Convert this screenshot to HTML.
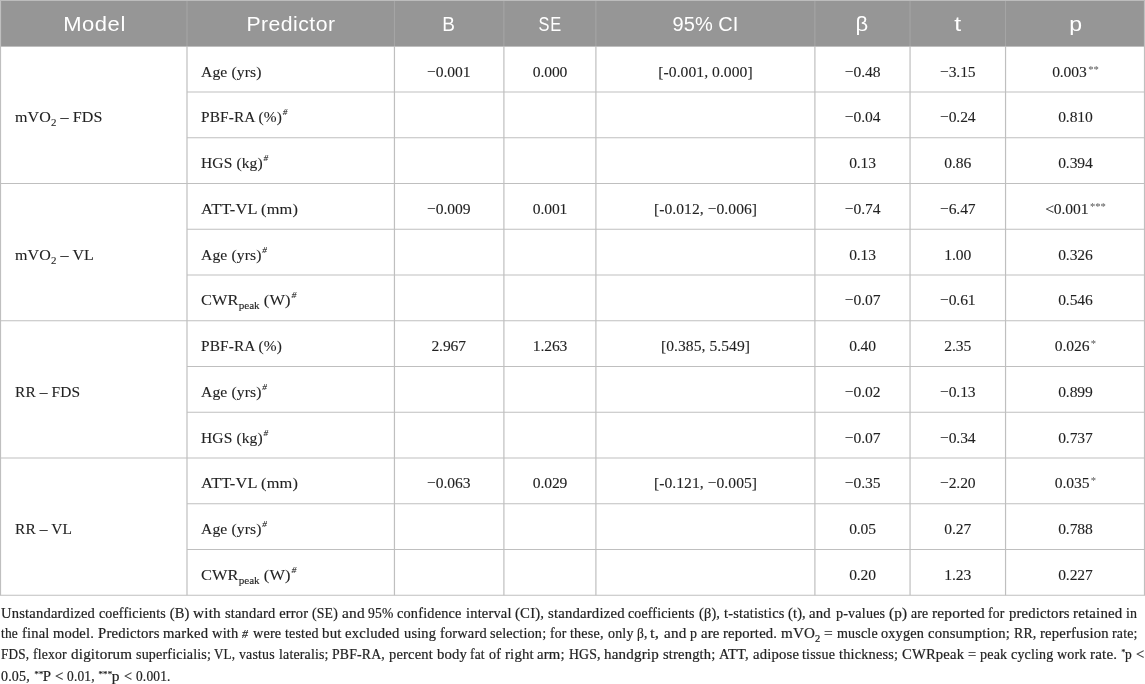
<!DOCTYPE html>
<html><head><meta charset="utf-8"><title>Table</title>
<style>
html,body{margin:0;padding:0;background:#fff;}
body{width:1145px;height:684px;position:relative;overflow:hidden;font-family:"Liberation Serif",serif;color:#222;-webkit-text-stroke:0.1px #222;}
svg.g{position:absolute;left:0;top:0;}
.h{position:absolute;height:46px;line-height:46px;text-align:center;color:#fff;-webkit-text-stroke:0;font-family:"Liberation Sans",sans-serif;font-size:20px;letter-spacing:0.8px;white-space:nowrap;will-change:transform;}
.c{position:absolute;white-space:nowrap;line-height:20px;height:20px;will-change:transform;}
.n{font-size:15.6px;letter-spacing:-0.1px;text-align:center;}
.l{font-size:15.2px;}
sup,sub{line-height:0;letter-spacing:0;}
sup{font-size:9px;vertical-align:6.6px;margin-left:0.8px;font-style:italic;}
sup.s{-webkit-text-stroke:0;font-size:10.6px;vertical-align:4.5px;color:#555;margin-left:1.5px;font-style:normal;letter-spacing:0;}
sub{font-size:10.3px;vertical-align:-3.8px;}
.ft{-webkit-text-stroke:0.2px #222;position:absolute;left:0;width:1145px;white-space:nowrap;font-size:14.5px;letter-spacing:0.18px;line-height:20px;height:20px;color:#222;will-change:transform;}
.ft span{position:absolute;top:0;transform-origin:0 50%;}
.ft sup{font-size:8.6px;vertical-align:4.3px;margin:0;color:#333;}
.ft i{font-style:italic;font-size:11.6px;vertical-align:0.5px;}
.ft sub{font-size:10px;vertical-align:-3.5px;}
</style></head><body>

<svg class="g" width="1145" height="684" viewBox="0 0 1145 684">
<rect x="0" y="0" width="1145" height="46.60" fill="#969696"/>
<line x1="0.50" y1="0" x2="0.50" y2="595.25" stroke="#bfbfbf" stroke-width="1.2"/>
<line x1="187.00" y1="0" x2="187.00" y2="46.25" stroke="#a6a6a6" stroke-width="1"/>
<line x1="187.00" y1="46.25" x2="187.00" y2="595.25" stroke="#bfbfbf" stroke-width="1.2"/>
<line x1="394.45" y1="0" x2="394.45" y2="46.25" stroke="#a6a6a6" stroke-width="1"/>
<line x1="394.45" y1="46.25" x2="394.45" y2="595.25" stroke="#bfbfbf" stroke-width="1.2"/>
<line x1="503.90" y1="0" x2="503.90" y2="46.25" stroke="#a6a6a6" stroke-width="1"/>
<line x1="503.90" y1="46.25" x2="503.90" y2="595.25" stroke="#bfbfbf" stroke-width="1.2"/>
<line x1="595.90" y1="0" x2="595.90" y2="46.25" stroke="#a6a6a6" stroke-width="1"/>
<line x1="595.90" y1="46.25" x2="595.90" y2="595.25" stroke="#bfbfbf" stroke-width="1.2"/>
<line x1="814.90" y1="0" x2="814.90" y2="46.25" stroke="#a6a6a6" stroke-width="1"/>
<line x1="814.90" y1="46.25" x2="814.90" y2="595.25" stroke="#bfbfbf" stroke-width="1.2"/>
<line x1="910.05" y1="0" x2="910.05" y2="46.25" stroke="#a6a6a6" stroke-width="1"/>
<line x1="910.05" y1="46.25" x2="910.05" y2="595.25" stroke="#bfbfbf" stroke-width="1.2"/>
<line x1="1005.55" y1="0" x2="1005.55" y2="46.25" stroke="#a6a6a6" stroke-width="1"/>
<line x1="1005.55" y1="46.25" x2="1005.55" y2="595.25" stroke="#bfbfbf" stroke-width="1.2"/>
<line x1="1144.50" y1="0" x2="1144.50" y2="595.25" stroke="#bfbfbf" stroke-width="1.2"/>
<line x1="187.00" y1="92.00" x2="1145" y2="92.00" stroke="#bfbfbf" stroke-width="1.2"/>
<line x1="187.00" y1="137.75" x2="1145" y2="137.75" stroke="#bfbfbf" stroke-width="1.2"/>
<line x1="0.00" y1="183.50" x2="1145" y2="183.50" stroke="#bfbfbf" stroke-width="1.2"/>
<line x1="187.00" y1="229.25" x2="1145" y2="229.25" stroke="#bfbfbf" stroke-width="1.2"/>
<line x1="187.00" y1="275.00" x2="1145" y2="275.00" stroke="#bfbfbf" stroke-width="1.2"/>
<line x1="0.00" y1="320.75" x2="1145" y2="320.75" stroke="#bfbfbf" stroke-width="1.2"/>
<line x1="187.00" y1="366.50" x2="1145" y2="366.50" stroke="#bfbfbf" stroke-width="1.2"/>
<line x1="187.00" y1="412.25" x2="1145" y2="412.25" stroke="#bfbfbf" stroke-width="1.2"/>
<line x1="0.00" y1="458.00" x2="1145" y2="458.00" stroke="#bfbfbf" stroke-width="1.2"/>
<line x1="187.00" y1="503.75" x2="1145" y2="503.75" stroke="#bfbfbf" stroke-width="1.2"/>
<line x1="187.00" y1="549.50" x2="1145" y2="549.50" stroke="#bfbfbf" stroke-width="1.2"/>
<line x1="0.00" y1="595.25" x2="1145" y2="595.25" stroke="#bfbfbf" stroke-width="1.2"/>
<line x1="0" y1="0.5" x2="1145" y2="0.5" stroke="#bcbcbc" stroke-width="1"/>
</svg>
<div class="h" style="left:0.50px;width:186.50px;top:0.60px"><span style="display:inline-block;letter-spacing:0.50px;margin-right:-0.50px;transform:scaleX(1.100)">Model</span></div>
<div class="h" style="left:187.00px;width:207.45px;top:0.60px"><span style="display:inline-block;letter-spacing:0.43px;margin-right:-0.43px;transform:scaleX(1.060)">Predictor</span></div>
<div class="h" style="left:394.45px;width:109.45px;top:0.60px"><span style="display:inline-block;letter-spacing:0.00px;margin-right:0.00px;transform:scaleX(0.950)">B</span></div>
<div class="h" style="left:503.90px;width:92.00px;top:0.60px"><span style="display:inline-block;letter-spacing:0.80px;margin-right:-0.80px;transform:scaleX(0.820)">SE</span></div>
<div class="h" style="left:595.90px;width:219.00px;top:0.60px"><span style="display:inline-block;letter-spacing:0.05px;margin-right:-0.05px;transform:scaleX(1.000)">95% CI</span></div>
<div class="h" style="left:813.90px;width:95.15px;top:0.60px"><span style="display:inline-block;letter-spacing:0.00px;margin-right:0.00px;transform:scaleX(1.100)">β</span></div>
<div class="h" style="left:910.05px;width:95.50px;top:0.60px"><span style="display:inline-block;letter-spacing:0.00px;margin-right:0.00px;transform:scaleX(1.250)">t</span></div>
<div class="h" style="left:1005.55px;width:138.95px;top:0.60px"><span style="display:inline-block;letter-spacing:0.00px;margin-right:0.00px;transform:scaleX(1.150)">p</span></div>
<div class="c l" id="m0" style="left:15.00px;top:107.34px;letter-spacing:0.1px;transform-origin:0 50%;transform:scaleX(1.0568)">mVO<sub>2</sub> – FDS</div>
<div class="c l" id="m1" style="left:15.00px;top:244.60px;letter-spacing:0.1px;transform-origin:0 50%;transform:scaleX(1.0548)">mVO<sub>2</sub> – VL</div>
<div class="c l" id="m2" style="left:14.50px;top:381.85px;letter-spacing:0.1px;transform-origin:0 50%;transform:scaleX(1.0161)">RR – FDS</div>
<div class="c l" id="m3" style="left:14.50px;top:519.10px;letter-spacing:0.1px;transform-origin:0 50%;transform:scaleX(1.0185)">RR – VL</div>
<div class="c l" id="age_0" style="left:200.70px;top:61.59px;letter-spacing:0.1px;transform-origin:0 50%;transform:scaleX(1.0317)">Age (yrs)</div>
<div class="c n" style="left:394.45px;width:109.45px;top:61.56px;">−0.001</div>
<div class="c n" style="left:503.90px;width:92.00px;top:61.56px;">0.000</div>
<div class="c n" style="left:595.90px;width:219.00px;top:61.56px;letter-spacing:0.05px;">[-0.001, 0.000]</div>
<div class="c n" style="left:814.90px;width:95.15px;top:61.56px;">−0.48</div>
<div class="c n" style="left:910.05px;width:95.50px;top:61.56px;">−3.15</div>
<div class="c n" style="left:1005.55px;width:138.95px;top:61.56px;">0.003<sup class="s">**</sup></div>
<div class="c l" id="pbf_1" style="left:200.50px;top:107.34px;letter-spacing:0.1px;transform-origin:0 50%;transform:scaleX(1.0128)">PBF-RA (%)<sup>#</sup></div>
<div class="c n" style="left:814.90px;width:95.15px;top:107.31px;">−0.04</div>
<div class="c n" style="left:910.05px;width:95.50px;top:107.31px;">−0.24</div>
<div class="c n" style="left:1005.55px;width:138.95px;top:107.31px;">0.810</div>
<div class="c l" id="hgs_2" style="left:200.70px;top:153.09px;letter-spacing:0.1px;transform-origin:0 50%;transform:scaleX(1.0244)">HGS (kg)<sup>#</sup></div>
<div class="c n" style="left:814.90px;width:95.15px;top:153.06px;">0.13</div>
<div class="c n" style="left:910.05px;width:95.50px;top:153.06px;">0.86</div>
<div class="c n" style="left:1005.55px;width:138.95px;top:153.06px;">0.394</div>
<div class="c l" id="att_3" style="left:201.10px;top:198.84px;letter-spacing:0.1px;transform-origin:0 50%;transform:scaleX(1.0795)">ATT-VL (mm)</div>
<div class="c n" style="left:394.45px;width:109.45px;top:198.81px;">−0.009</div>
<div class="c n" style="left:503.90px;width:92.00px;top:198.81px;">0.001</div>
<div class="c n" style="left:595.90px;width:219.00px;top:198.81px;letter-spacing:0.05px;">[-0.012, −0.006]</div>
<div class="c n" style="left:814.90px;width:95.15px;top:198.81px;">−0.74</div>
<div class="c n" style="left:910.05px;width:95.50px;top:198.81px;">−6.47</div>
<div class="c n" style="left:1005.55px;width:138.95px;top:198.81px;">&lt;0.001<sup class="s">***</sup></div>
<div class="c l" id="age_4" style="left:200.70px;top:244.60px;letter-spacing:0.1px;transform-origin:0 50%;transform:scaleX(1.0317)">Age (yrs)<sup>#</sup></div>
<div class="c n" style="left:814.90px;width:95.15px;top:244.56px;">0.13</div>
<div class="c n" style="left:910.05px;width:95.50px;top:244.56px;">1.00</div>
<div class="c n" style="left:1005.55px;width:138.95px;top:244.56px;">0.326</div>
<div class="c l" id="cwr_5" style="left:200.50px;top:290.35px;letter-spacing:0.1px;transform-origin:0 50%;transform:scaleX(1.0791)">CWR<sub>peak</sub> (W)<sup>#</sup></div>
<div class="c n" style="left:814.90px;width:95.15px;top:290.31px;">−0.07</div>
<div class="c n" style="left:910.05px;width:95.50px;top:290.31px;">−0.61</div>
<div class="c n" style="left:1005.55px;width:138.95px;top:290.31px;">0.546</div>
<div class="c l" id="pbf_6" style="left:200.50px;top:336.10px;letter-spacing:0.1px;transform-origin:0 50%;transform:scaleX(1.0128)">PBF-RA (%)</div>
<div class="c n" style="left:394.45px;width:109.45px;top:336.06px;">2.967</div>
<div class="c n" style="left:503.90px;width:92.00px;top:336.06px;">1.263</div>
<div class="c n" style="left:595.90px;width:219.00px;top:336.06px;letter-spacing:0.05px;">[0.385, 5.549]</div>
<div class="c n" style="left:814.90px;width:95.15px;top:336.06px;">0.40</div>
<div class="c n" style="left:910.05px;width:95.50px;top:336.06px;">2.35</div>
<div class="c n" style="left:1005.55px;width:138.95px;top:336.06px;">0.026<sup class="s">*</sup></div>
<div class="c l" id="age_7" style="left:200.70px;top:381.85px;letter-spacing:0.1px;transform-origin:0 50%;transform:scaleX(1.0317)">Age (yrs)<sup>#</sup></div>
<div class="c n" style="left:814.90px;width:95.15px;top:381.81px;">−0.02</div>
<div class="c n" style="left:910.05px;width:95.50px;top:381.81px;">−0.13</div>
<div class="c n" style="left:1005.55px;width:138.95px;top:381.81px;">0.899</div>
<div class="c l" id="hgs_8" style="left:200.70px;top:427.60px;letter-spacing:0.1px;transform-origin:0 50%;transform:scaleX(1.0244)">HGS (kg)<sup>#</sup></div>
<div class="c n" style="left:814.90px;width:95.15px;top:427.56px;">−0.07</div>
<div class="c n" style="left:910.05px;width:95.50px;top:427.56px;">−0.34</div>
<div class="c n" style="left:1005.55px;width:138.95px;top:427.56px;">0.737</div>
<div class="c l" id="att_9" style="left:201.10px;top:473.35px;letter-spacing:0.1px;transform-origin:0 50%;transform:scaleX(1.0795)">ATT-VL (mm)</div>
<div class="c n" style="left:394.45px;width:109.45px;top:473.31px;">−0.063</div>
<div class="c n" style="left:503.90px;width:92.00px;top:473.31px;">0.029</div>
<div class="c n" style="left:595.90px;width:219.00px;top:473.31px;letter-spacing:0.05px;">[-0.121, −0.005]</div>
<div class="c n" style="left:814.90px;width:95.15px;top:473.31px;">−0.35</div>
<div class="c n" style="left:910.05px;width:95.50px;top:473.31px;">−2.20</div>
<div class="c n" style="left:1005.55px;width:138.95px;top:473.31px;">0.035<sup class="s">*</sup></div>
<div class="c l" id="age_10" style="left:200.70px;top:519.10px;letter-spacing:0.1px;transform-origin:0 50%;transform:scaleX(1.0317)">Age (yrs)<sup>#</sup></div>
<div class="c n" style="left:814.90px;width:95.15px;top:519.06px;">0.05</div>
<div class="c n" style="left:910.05px;width:95.50px;top:519.06px;">0.27</div>
<div class="c n" style="left:1005.55px;width:138.95px;top:519.06px;">0.788</div>
<div class="c l" id="cwr_11" style="left:200.50px;top:564.85px;letter-spacing:0.1px;transform-origin:0 50%;transform:scaleX(1.0791)">CWR<sub>peak</sub> (W)<sup>#</sup></div>
<div class="c n" style="left:814.90px;width:95.15px;top:564.81px;">0.20</div>
<div class="c n" style="left:910.05px;width:95.50px;top:564.81px;">1.23</div>
<div class="c n" style="left:1005.55px;width:138.95px;top:564.81px;">0.227</div>
<div class="ft" id="f0" style="top:602.51px"><span id="w0_0" style="left:1.3px;transform:scaleX(1.006)">Unstandardized</span><span id="w0_1" style="left:99.1px;transform:scaleX(0.961)">coefficients</span><span id="w0_2" style="left:169.7px;transform:scaleX(1.000)">(B)</span><span id="w0_3" style="left:193.3px;transform:scaleX(1.053)">with</span><span id="w0_4" style="left:224.9px;transform:scaleX(0.998)">standard error</span><span id="w0_5" style="left:311.9px;transform:scaleX(0.950)">(SE)</span><span id="w0_6" style="left:341.6px;transform:scaleX(1.062)">and</span><span id="w0_7" style="left:368.1px;transform:scaleX(0.938)">95%</span><span id="w0_8" style="left:397.3px;transform:scaleX(0.987)">confidence</span><span id="w0_9" style="left:465.6px;transform:scaleX(0.999)">interval</span><span id="w0_10" style="left:515.0px;transform:scaleX(1.018)">(CI),</span><span id="w0_11" style="left:547.9px;transform:scaleX(1.017)">standardized</span><span id="w0_12" style="left:628.3px;transform:scaleX(0.959)">coefficients</span><span id="w0_13" style="left:698.7px;transform:scaleX(0.985)">(β),</span><span id="w0_14" style="left:723.5px;transform:scaleX(0.994)">t-statistics</span><span id="w0_15" style="left:787.8px;transform:scaleX(0.991)">(t),</span><span id="w0_16" style="left:809.4px;transform:scaleX(1.019)">and</span><span id="w0_17" style="left:835.8px;transform:scaleX(0.974)">p-values</span><span id="w0_18" style="left:888.8px;transform:scaleX(1.049)">(p)</span><span id="w0_19" style="left:910.8px;transform:scaleX(0.945)">are</span><span id="w0_20" style="left:931.8px;transform:scaleX(1.062)">reported</span><span id="w0_21" style="left:988.3px;transform:scaleX(0.942)">for</span><span id="w0_22" style="left:1008.5px;transform:scaleX(1.014)">predictors</span><span id="w0_23" style="left:1072.8px;transform:scaleX(1.028)">retained</span><span id="w0_24" style="left:1126.0px;transform:scaleX(0.967)">in</span></div>
<div class="ft" id="f1" style="top:623.21px"><span id="w1_0" style="left:0.9px;transform:scaleX(0.927)">the</span><span id="w1_1" style="left:21.6px;transform:scaleX(1.004)">final</span><span id="w1_2" style="left:52.9px;transform:scaleX(1.001)">model.</span><span id="w1_3" style="left:97.6px;transform:scaleX(1.016)">Predictors</span><span id="w1_4" style="left:162.9px;transform:scaleX(1.014)">marked</span><span id="w1_5" style="left:211.8px;transform:scaleX(0.999)">with</span><span id="w1_6" style="left:242.0px;transform:scaleX(1.018)"><i>#</i></span><span id="w1_7" style="left:252.5px;transform:scaleX(0.981)">were</span><span id="w1_8" style="left:284.6px;transform:scaleX(0.967)">tested</span><span id="w1_9" style="left:322.1px;transform:scaleX(1.027)">but</span><span id="w1_10" style="left:345.4px;transform:scaleX(1.013)">excluded</span><span id="w1_11" style="left:403.6px;transform:scaleX(0.995)">using</span><span id="w1_12" style="left:439.5px;transform:scaleX(0.992)">forward</span><span id="w1_13" style="left:490.0px;transform:scaleX(0.981)">selection;</span><span id="w1_14" style="left:550.0px;transform:scaleX(0.942)">for</span><span id="w1_15" style="left:570.2px;transform:scaleX(0.976)">these,</span><span id="w1_16" style="left:607.6px;transform:scaleX(0.964)">only</span><span id="w1_17" style="left:636.9px;transform:scaleX(0.926)">β,</span><span id="w1_18" style="left:650.3px;transform:scaleX(1.145)">t,</span><span id="w1_19" style="left:663.8px;transform:scaleX(1.043)">and</span><span id="w1_20" style="left:689.9px;transform:scaleX(0.962)">p</span><span id="w1_21" style="left:700.8px;transform:scaleX(1.019)">are</span><span id="w1_22" style="left:723.1px;transform:scaleX(1.012)">reported.</span><span id="w1_23" style="left:781.0px;transform:scaleX(1.041)">mVO<sub>2</sub></span><span id="w1_24" style="left:824.0px;transform:scaleX(1.068)">=</span><span id="w1_25" style="left:836.6px;transform:scaleX(0.969)">muscle</span><span id="w1_26" style="left:881.2px;transform:scaleX(0.984)">oxygen</span><span id="w1_27" style="left:928.0px;transform:scaleX(1.010)">consumption;</span><span id="w1_28" style="left:1013.6px;transform:scaleX(0.955)">RR,</span><span id="w1_29" style="left:1039.8px;transform:scaleX(1.010)">reperfusion</span><span id="w1_30" style="left:1112.2px;transform:scaleX(0.958)">rate;</span></div>
<div class="ft" id="f2" style="top:644.31px"><span id="w2_0" style="left:1.1px;transform:scaleX(0.908)">FDS,</span><span id="w2_1" style="left:33.0px;transform:scaleX(0.945)">flexor</span><span id="w2_2" style="left:70.5px;transform:scaleX(1.042)">digitorum</span><span id="w2_3" style="left:135.5px;transform:scaleX(0.969)">superficialis;</span><span id="w2_4" style="left:214.3px;transform:scaleX(0.903)">VL,</span><span id="w2_5" style="left:239.3px;transform:scaleX(0.957)">vastus</span><span id="w2_6" style="left:278.8px;transform:scaleX(0.960)">lateralis;</span><span id="w2_7" style="left:332.2px;transform:scaleX(0.951)">PBF-RA,</span><span id="w2_8" style="left:388.9px;transform:scaleX(0.999)">percent</span><span id="w2_9" style="left:436.5px;transform:scaleX(1.015)">body</span><span id="w2_10" style="left:470.4px;transform:scaleX(0.930)">fat</span><span id="w2_11" style="left:488.9px;transform:scaleX(0.968)">of</span><span id="w2_12" style="left:504.7px;transform:scaleX(1.021)">right</span><span id="w2_13" style="left:537.3px;transform:scaleX(1.018)">arm;</span><span id="w2_14" style="left:568.8px;transform:scaleX(0.949)">HGS,</span><span id="w2_15" style="left:604.2px;transform:scaleX(1.036)">handgrip</span><span id="w2_16" style="left:662.8px;transform:scaleX(1.002)">strength;</span><span id="w2_17" style="left:719.0px;transform:scaleX(0.997)">ATT,</span><span id="w2_18" style="left:752.5px;transform:scaleX(1.012)">adipose</span><span id="w2_19" style="left:802.3px;transform:scaleX(0.969)">tissue</span><span id="w2_20" style="left:839.1px;transform:scaleX(0.988)">thickness;</span><span id="w2_21" style="left:901.9px;transform:scaleX(1.008)">CWRpeak</span><span id="w2_22" style="left:967.8px;transform:scaleX(1.003)">=</span><span id="w2_23" style="left:979.9px;transform:scaleX(0.974)">peak</span><span id="w2_24" style="left:1011.0px;transform:scaleX(0.966)">cycling</span><span id="w2_25" style="left:1057.2px;transform:scaleX(0.965)">work</span><span id="w2_26" style="left:1090.4px;transform:scaleX(1.040)">rate.</span><span id="w2_27" style="left:1121.4px;transform:scaleX(0.932)"><sup>*</sup>p</span><span id="w2_28" style="left:1136.1px;transform:scaleX(1.003)">&lt;</span></div>
<div class="ft" id="f3" style="top:665.51px"><span id="w3_0" style="left:1.0px;transform:scaleX(0.965)">0.05,</span><span id="w3_1" style="left:33.6px;transform:scaleX(1.027)"><sup>**</sup>P</span><span id="w3_2" style="left:54.6px;transform:scaleX(1.016)">&lt;</span><span id="w3_3" style="left:66.8px;transform:scaleX(0.927)">0.01,</span><span id="w3_4" style="left:98.3px;transform:scaleX(1.064)"><sup>***</sup>p</span><span id="w3_5" style="left:123.6px;transform:scaleX(0.977)">&lt;</span><span id="w3_6" style="left:135.5px;transform:scaleX(0.925)">0.001.</span></div>
</body></html>
